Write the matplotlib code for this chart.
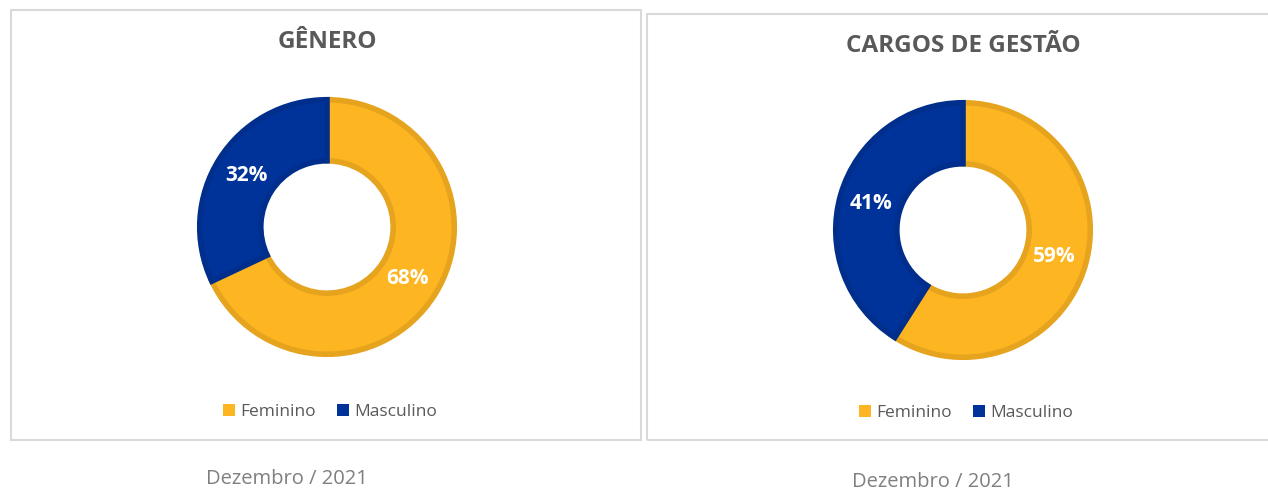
import matplotlib.pyplot as plt
from matplotlib.patches import Rectangle, Patch

plt.rcParams['font.family'] = ['Open Sans', 'DejaVu Sans']

categorias = ['Feminino', 'Masculino']
titulos = ['GÊNERO', 'CARGOS DE GESTÃO']
genero = [68, 32]
cargos_gestao = [59, 41]
rodape = 'Dezembro / 2021'

cores = ['#FDB521', '#003399']
bordas = ['#E6A31E', '#002E8C']
cinza = '#595959'

W, H = 1268, 490
fig = plt.figure(figsize=(W / 100, H / 100), dpi=100)


def px(x, y):
    # pixel (from top-left) -> figure fraction
    return x / W, 1 - y / H


# caixas dos paineis
for x0, y0, x1, y1 in [(11, 10, 641, 440), (647, 14, 1275, 440)]:
    fx, fy = px(x0, y1)
    fig.patches.append(Rectangle((fx, fy), (x1 - x0) / W, (y1 - y0) / H,
                                 transform=fig.transFigure, fill=False,
                                 edgecolor='#D9D9D9', lw=1.5))

paineis = [
    (titulos[0], genero, (327, 227), 42, 412, (287, 479)),
    (titulos[1], cargos_gestao, (963, 230), 46, 413, (933, 482)),
]

lado = 280
for titulo, valores, (cx, cy), ty, ly, (rx, ry) in paineis:
    ax = fig.add_axes([(cx - lado / 2) / W, 1 - (cy + lado / 2) / H, lado / W, lado / H])
    wedges, _, autotexts = ax.pie(
        valores, colors=cores, startangle=90, counterclock=False,
        autopct=lambda p: f'{p:.0f}%', pctdistance=0.75,
        wedgeprops=dict(width=0.48, linewidth=4),
        textprops=dict(color='white', fontsize=15, fontweight='bold'))
    for w, b in zip(wedges, bordas):
        w.set_edgecolor(b)
    ax.set_xlim(-1.1, 1.1)
    ax.set_ylim(-1.1, 1.1)
    ax.set_aspect('equal')
    ax.axis('off')

    fx, fy = px(cx, ty)
    fig.text(fx, fy, titulo, ha='center', va='center', fontsize=17.5,
             fontweight='bold', color=cinza)

    handles = [Patch(facecolor=c, edgecolor='none') for c in cores]
    lx, lyf = px(cx + 3, ly)
    fig.legend(handles, categorias, loc='center', bbox_to_anchor=(lx, lyf),
               ncol=2, frameon=False, fontsize=12.5, handlelength=0.7,
               handleheight=0.7, handletextpad=0.3, columnspacing=1.2,
               labelcolor=cinza)

    fx, fy = px(rx, ry)
    fig.text(fx, fy, rodape, ha='center', va='center', fontsize=14.5,
             color='#7F7F7F')

fig.savefig('out.png', dpi=100)
